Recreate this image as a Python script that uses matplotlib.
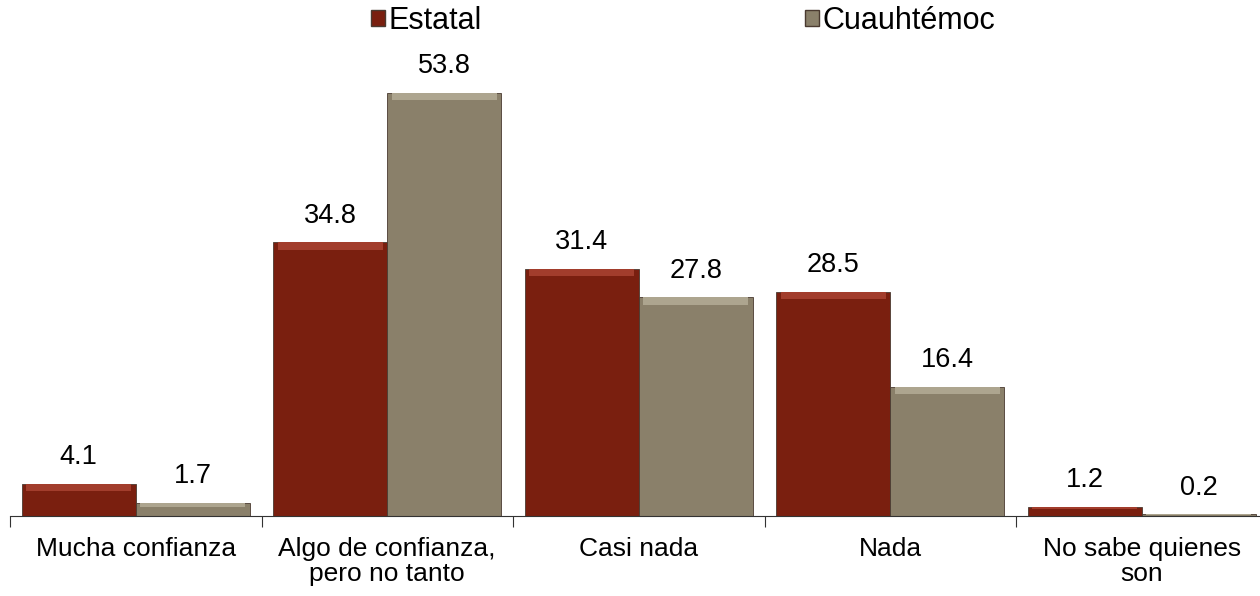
import numpy as np
import matplotlib
matplotlib.use("Agg")
import matplotlib.pyplot as plt
from matplotlib.patches import Patch

plt.rcParams['font.family'] = ['Liberation Sans', 'DejaVu Sans']

categories = ["Mucha confianza", "Algo de confianza,\npero no tanto", "Casi nada",
              "Nada", "No sabe quienes\nson"]
estatal = [4.1, 34.8, 31.4, 28.5, 1.2]
cuauhtemoc = [1.7, 53.8, 27.8, 16.4, 0.2]
series_names = ["Estatal", "Cuauhtémoc"]

red = "#7a1f0f"
red_top = "#a23d2c"
gray = "#8a806a"
gray_top = "#ada58f"

fig = plt.figure(figsize=(12.6, 5.96), dpi=100)
ax = fig.add_axes([10 / 1260, 80 / 596, 5 * 251.5 / 1260, 471.6 / 596])

x = np.arange(len(categories))
w = 0.454
bevel = 0.9

for vals, off, col, top in [(estatal, -w / 2, red, red_top), (cuauhtemoc, w / 2, gray, gray_top)]:
    vals = np.array(vals)
    ax.bar(x + off, vals, w, color=col, edgecolor="#4a3a30", linewidth=0.6)
    # light bevel band on top of each bar
    b = np.minimum(bevel, vals * 0.3)
    ax.bar(x + off, b, w * 0.92, bottom=vals - b, color=top, linewidth=0)
    for xi, v in zip(x + off, vals):
        ax.annotate(f"{v:.1f}", (xi, v), xytext=(0, 10), textcoords="offset points",
                    ha="center", va="bottom", fontsize=19.5)

ax.set_xlim(-0.5, len(categories) - 0.5)
ax.set_ylim(0, 60)
ax.set_xticks(x)
ax.set_xticklabels(categories, fontsize=19, linespacing=1.05)
ax.set_xticks(np.arange(len(categories) + 1) - 0.5, minor=True)
ax.tick_params(axis="x", which="major", length=0, pad=15)
ax.tick_params(axis="x", which="minor", length=8, width=0.8, color="#333333")
ax.set_yticks([])
for s in ["top", "right", "left"]:
    ax.spines[s].set_visible(False)
ax.spines["bottom"].set_color("#333333")
ax.spines["bottom"].set_linewidth(0.8)

handles = [Patch(facecolor=red, edgecolor="#4a3a30"), Patch(facecolor=gray, edgecolor="#4a3a30")]
fig.legend(handles, series_names, loc="center", bbox_to_anchor=(683 / 1260, 1 - 21 / 596),
           ncol=2, frameon=False, fontsize=22, handlelength=0.45, handleheight=0.45,
           handletextpad=0.1, columnspacing=10.6, borderpad=0)

fig.savefig("out.png", dpi=100)
